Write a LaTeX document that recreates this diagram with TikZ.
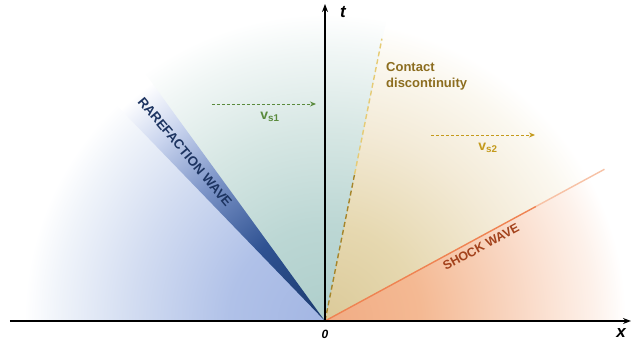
\documentclass[tikz,border=0pt]{standalone}
\usepackage{fontspec}
\setmainfont{Liberation Sans}
\usetikzlibrary{arrows.meta}
\definecolor{blueA}{HTML}{A3B6E3}
\definecolor{blueB}{HTML}{B0C1E8}
\definecolor{blueC}{HTML}{D2DCF1}
\definecolor{blueD}{HTML}{F0F4FA}
\definecolor{tealA}{HTML}{AECECB}
\definecolor{tealB}{HTML}{BCD7D4}
\definecolor{tealC}{HTML}{D7E7E4}
\definecolor{tealD}{HTML}{F0F6F5}
\definecolor{tanA}{HTML}{DBCA99}
\definecolor{tanB}{HTML}{E6D8B0}
\definecolor{tanC}{HTML}{F3EAD6}
\definecolor{tanD}{HTML}{FBF8F0}
\definecolor{orA}{HTML}{F1AC84}
\definecolor{orB}{HTML}{F4B993}
\definecolor{orC}{HTML}{F9D7C3}
\definecolor{orD}{HTML}{FDF1EA}
\definecolor{bandA}{HTML}{1B3A6E}
\definecolor{bandB}{HTML}{2F5292}
\definecolor{bandC}{HTML}{7D95C8}
\definecolor{bandD}{HTML}{C9D4EE}
\definecolor{contactLow}{HTML}{A6852A}
\definecolor{contactHigh}{HTML}{E6CB74}
\definecolor{contactT}{HTML}{8C6D1F}
\definecolor{greenV}{HTML}{5A8A3C}
\definecolor{goldV}{HTML}{C49A1C}
\definecolor{shockC}{HTML}{EF8352}
\definecolor{shockL}{HTML}{F7C2A6}
\definecolor{shockT}{HTML}{A3421C}
\definecolor{rareT}{HTML}{1D3461}
% path bounding box maps to the central 50bp square: radius 320 <-> 25bp
\pgfdeclareradialshading{blueshade}{\pgfpointorigin}{color(0bp)=(blueA); color(7.5bp)=(blueB); color(15bp)=(blueC); color(21bp)=(blueD); color(23.5bp)=(white); color(50bp)=(white)}
\pgfdeclareradialshading{tealshade}{\pgfpointorigin}{color(0bp)=(tealA); color(7.5bp)=(tealB); color(15bp)=(tealC); color(21bp)=(tealD); color(24bp)=(white); color(50bp)=(white)}
\pgfdeclareradialshading{tanshade}{\pgfpointorigin}{color(0bp)=(tanA); color(7.5bp)=(tanB); color(15bp)=(tanC); color(21bp)=(tanD); color(23.5bp)=(white); color(50bp)=(white)}
\pgfdeclareradialshading{orshade}{\pgfpointorigin}{color(0bp)=(orA); color(7.5bp)=(orB); color(15bp)=(orC); color(21bp)=(orD); color(23.5bp)=(white); color(50bp)=(white)}
\pgfdeclareradialshading{bandshade}{\pgfpointorigin}{color(0bp)=(bandA); color(7.5bp)=(bandB); color(14bp)=(bandC); color(19bp)=(bandD); color(23bp)=(white); color(50bp)=(white)}
\tikzset{
  axisline/.style={line width=1.8pt, -{Stealth[length=8pt,width=6pt]}},
  axislabel/.style={font=\bfseries\itshape\fontsize{17}{17}\selectfont, inner sep=0pt},
  varrow/.style={line width=0.9pt, dash pattern=on 3pt off 2pt, -{Stealth[length=6pt,width=5pt]}},
  vlabel/.style={font=\bfseries\fontsize{14}{14}\selectfont, inner sep=0pt},
  wavelabel/.style={font=\bfseries\fontsize{12.5}{12.5}\selectfont, inner sep=0pt}
}
\begin{document}
\begin{tikzpicture}[x=1pt,y=1pt]
\useasboundingbox (-325,-23) rectangle (309,321);
\coordinate (O) at (0,0);
% regions
\begin{scope}
\clip (0,0) -- (130:420) arc[start angle=130,end angle=180,radius=420] -- cycle;
\shade[shading=blueshade] (0,0) circle (320);
\end{scope}
\begin{scope}
\clip (0,0) -- (28.5:420) arc[start angle=28.5,end angle=78.8,radius=420] -- cycle;
\shade[shading=tanshade] (0,0) circle (320);
\end{scope}
\begin{scope}
\clip (0,0) -- (78.5:420) arc[start angle=78.5,end angle=130,radius=420] -- cycle;
\shade[shading=tealshade] (0,0) circle (320);
\end{scope}
\begin{scope}
\clip (0,0) -- (0:420) arc[start angle=0,end angle=28.6,radius=420] -- cycle;
\shade[shading=orshade] (0,0) circle (320);
\end{scope}
\begin{scope}
\clip (0,0) -- (126:420) arc[start angle=126,end angle=134,radius=420] -- cycle;
\shade[shading=bandshade] (0,0) circle (320);
\end{scope}
% wave lines
\coordinate (shockmid) at (28.5:240);
\coordinate (shockend) at (28.5:318);
\draw[shockC, line width=1.4pt] (O) -- (shockmid);
\draw[shockL, line width=1.4pt] (shockmid) -- (shockend);
\coordinate (contactmid) at (78.6:150);
\coordinate (contactend) at (78.6:288);
\draw[contactLow, line width=1.4pt, dash pattern=on 5pt off 3pt] (O) -- (contactmid);
\draw[contactHigh, line width=1.4pt, dash pattern=on 5pt off 3pt] (contactmid) -- (contactend);
% axes
\coordinate (xstart) at (-315,0);
\coordinate (xend) at (306,0);
\coordinate (tend) at (0,317);
\draw[axisline] (xstart) -- (xend);
\draw[axisline] (O) -- (tend);
\node[axislabel] (tlab) at (18,309) {t};
\node[axislabel] (xlab) at (296,-12) {x};
\node[font=\bfseries\itshape\fontsize{12}{12}\selectfont, inner sep=0pt] (zlab) at (0,-13) {0};
% velocity arrows
\coordinate (v1a) at (-113,217);
\coordinate (v1b) at (-9,217);
\draw[varrow, greenV] (v1a) -- (v1b);
\node[vlabel, greenV] (v1lab) at (-55,204) {v\textsubscript{s1}};
\coordinate (v2a) at (106,186);
\coordinate (v2b) at (210,186);
\draw[varrow, goldV] (v2a) -- (v2b);
\node[vlabel, goldV] (v2lab) at (163,173) {v\textsubscript{s2}};
% labels
\node[anchor=north west, align=left, font=\bfseries\fontsize{13}{16}\selectfont, text=contactT, inner sep=0pt] (clab) at (61,259) {Contact\\discontinuity};
\node[wavelabel, text=shockT, rotate=28.5] (slab) at (156,74) {SHOCK WAVE};
\node[font=\bfseries\fontsize{13.3}{13.3}\selectfont, inner sep=0pt, text=rareT, rotate=-50] (rlab) at (-140,169) {RAREFACTION WAVE};
\end{tikzpicture}
\end{document}
